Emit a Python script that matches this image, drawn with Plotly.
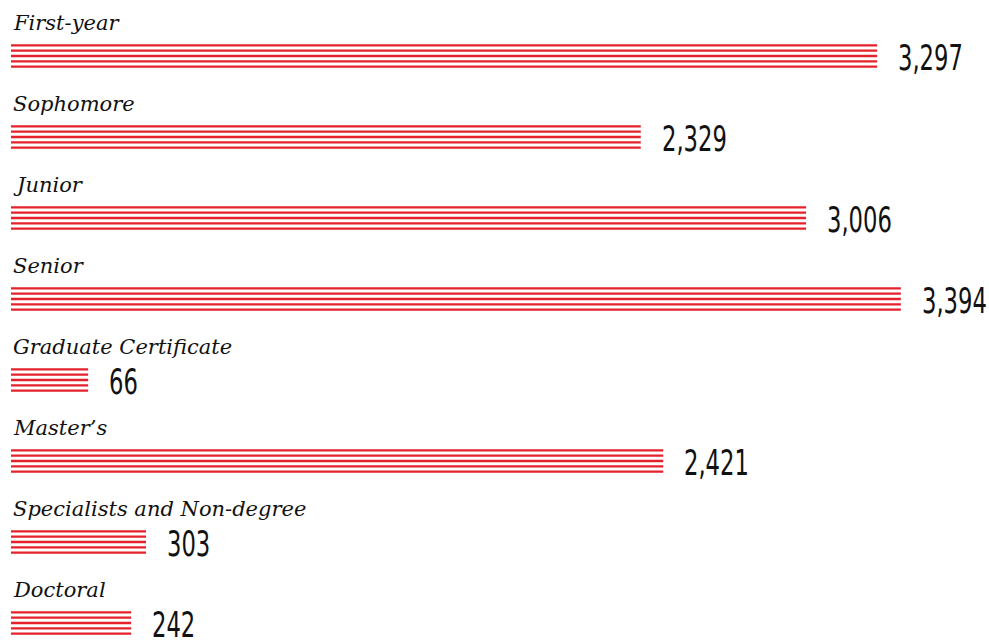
import plotly.graph_objects as go

categories = ["First-year", "Sophomore", "Junior", "Senior", "Graduate Certificate",
              "Master\u2019s", "Specialists and Non-degree", "Doctoral"]
values = [3297, 2329, 3006, 3394, 66, 2421, 303, 242]

RED = "#E3222B"
PX_PER_UNIT_Y = 81.0          # pixels between category rows
STRIPES = 5
STRIPE_PITCH = 5.33 / PX_PER_UNIT_Y
STRIPE_W = 2.4 / PX_PER_UNIT_Y
BASE = -250                   # bars start a bit left of zero
NUM_FONT = "DejaVu Sans Condensed"

pos = list(range(len(categories)))

fig = go.Figure()
for s in range(STRIPES):
    off = (s - (STRIPES - 1) / 2) * STRIPE_PITCH
    fig.add_trace(go.Bar(
        y=[p + off for p in pos],
        x=[v - BASE for v in values],
        base=BASE,
        orientation="h",
        width=STRIPE_W,
        marker=dict(color=RED, line=dict(width=0)),
        hoverinfo="skip",
        showlegend=False,
    ))

for p, c, v in zip(pos, categories, values):
    fig.add_annotation(
        x=11 / 989, xref="paper", y=p - 33 / PX_PER_UNIT_Y, yref="y",
        text=c, showarrow=False, xanchor="left", yanchor="middle",
        font=dict(family="DejaVu Serif", size=21, color="#111111", style="italic"),
    )
    fig.add_annotation(
        x=v, xref="x", y=p + 1 / PX_PER_UNIT_Y, yref="y",
        text=f"{v:,}", showarrow=False, xanchor="left", yanchor="middle", xshift=19,
        align="left",
        font=dict(family=NUM_FONT, size=36, color="#111111"),
    )

fig.update_layout(
    width=989, height=641,
    margin=dict(l=0, r=0, t=0, b=0),
    paper_bgcolor="white", plot_bgcolor="white",
    barmode="overlay",
    xaxis=dict(range=[-295, 3755], visible=False, fixedrange=True),
    yaxis=dict(range=[585 / PX_PER_UNIT_Y, -56 / PX_PER_UNIT_Y], visible=False, fixedrange=True),
)

post = """
document.body.style.margin='0';
document.querySelectorAll('text.annotation-text').forEach(function(t){
  var ff = (t.style.fontFamily || '') + (t.getAttribute('style') || '');
  if (ff.indexOf('Condensed') >= 0) {
    var w = t.getComputedTextLength();
    t.setAttribute('textLength', (w * 0.70).toFixed(1));
    t.setAttribute('lengthAdjust', 'spacingAndGlyphs');
  }
});
"""

fig.write_html("out.html", post_script=post, config={"displayModeBar": False})
